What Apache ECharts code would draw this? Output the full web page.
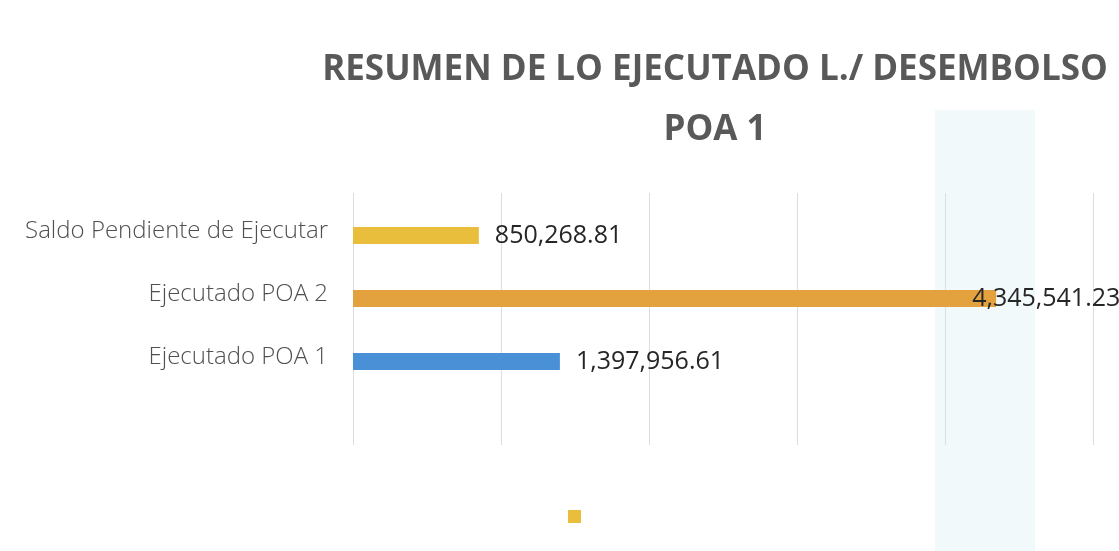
<!DOCTYPE html>
<html>
<head>
<meta charset="utf-8">
<script src="https://cdn.jsdelivr.net/npm/echarts@6/dist/echarts.min.js"></script>
<style>
  html, body { margin: 0; padding: 0; background: #fff; }
  #main { width: 1119px; height: 551px; }
</style>
</head>
<body>
<div id="main"></div>
<script>
// categories from bottom to top (first one is the empty slot under the bars)
var categories = ['', 'Ejecutado POA 1', 'Ejecutado POA 2', 'Saldo Pendiente de Ejecutar'];
var values = [null, 1397956.61, 4345541.23, 850268.81];
var barColors = ['#e8be3c', '#4a90d6', '#e4a23e', '#e8be3c'];
var xTicks = [0, 1000000, 2000000, 3000000, 4000000, 5000000];

function fmt(v) {
    return v.toLocaleString('en-US', {minimumFractionDigits: 2, maximumFractionDigits: 2});
}

var mainData = [];
for (var i = 0; i < values.length; i++) {
    var item = {value: values[i], itemStyle: {color: barColors[i]}};
    if (values[i] > 4000000) {
        // label doesn't fit outside, it overlaps the bar end
        item.label = {offset: [-40, 0]};
    }
    mainData.push(item);
}

var myChart = echarts.init(document.getElementById('main'));
var option = {
    backgroundColor: '#ffffff',
    animation: false,
    graphic: [
        {
            type: 'rect',
            z: -10,
            silent: true,
            shape: {x: 935, y: 110, width: 100, height: 441},
            style: {fill: '#f1f9fa'}
        }
    ],
    title: {
        text: 'RESUMEN DE LO EJECUTADO L./ DESEMBOLSO\nPOA 1',
        left: 710,
        top: 35,
        textAlign: 'center',
        textStyle: {
            fontFamily: 'Open Sans',
            fontSize: 35,
            fontWeight: 'bold',
            color: '#595959',
            lineHeight: 60
        }
    },
    legend: {
        data: [' '],
        left: 563,
        top: 505,
        itemWidth: 13,
        itemHeight: 13,
        icon: 'rect',
        itemGap: 0,
        textStyle: {fontSize: 1}
    },
    grid: {
        left: 353,
        right: 26,
        top: 193,
        bottom: 106
    },
    xAxis: {
        type: 'value',
        min: xTicks[0],
        max: xTicks[xTicks.length - 1],
        interval: xTicks[1] - xTicks[0],
        axisLine: {show: false},
        axisTick: {show: false},
        axisLabel: {show: false},
        splitLine: {lineStyle: {color: '#dedede', width: 1}}
    },
    yAxis: {
        type: 'category',
        data: categories,
        axisLine: {show: false},
        axisTick: {show: false},
        axisLabel: {
            margin: 25,
            formatter: function (v) { return v ? '{t|' + v + '}' : ''; },
            rich: {
                t: {
                    padding: [14, 0, 0, 0],
                    fontFamily: 'Open Sans',
                    fontSize: 24,
                    fontWeight: 300,
                    color: '#505050'
                }
            }
        }
    },
    series: [
        {
            name: ' ',
            type: 'bar',
            barWidth: 17,
            barGap: '30%',
            itemStyle: {color: '#e8be3c'},
            data: [null, null, null, null]
        },
        {
            name: 'datos',
            type: 'bar',
            barWidth: 17,
            barGap: '30%',
            data: mainData,
            label: {
                show: true,
                position: 'right',
                distance: 16,
                fontFamily: 'Open Sans',
                fontSize: 25,
                color: '#262626',
                formatter: function (p) { return fmt(p.value); }
            }
        }
    ]
};
myChart.setOption(option);
</script>
</body>
</html>
